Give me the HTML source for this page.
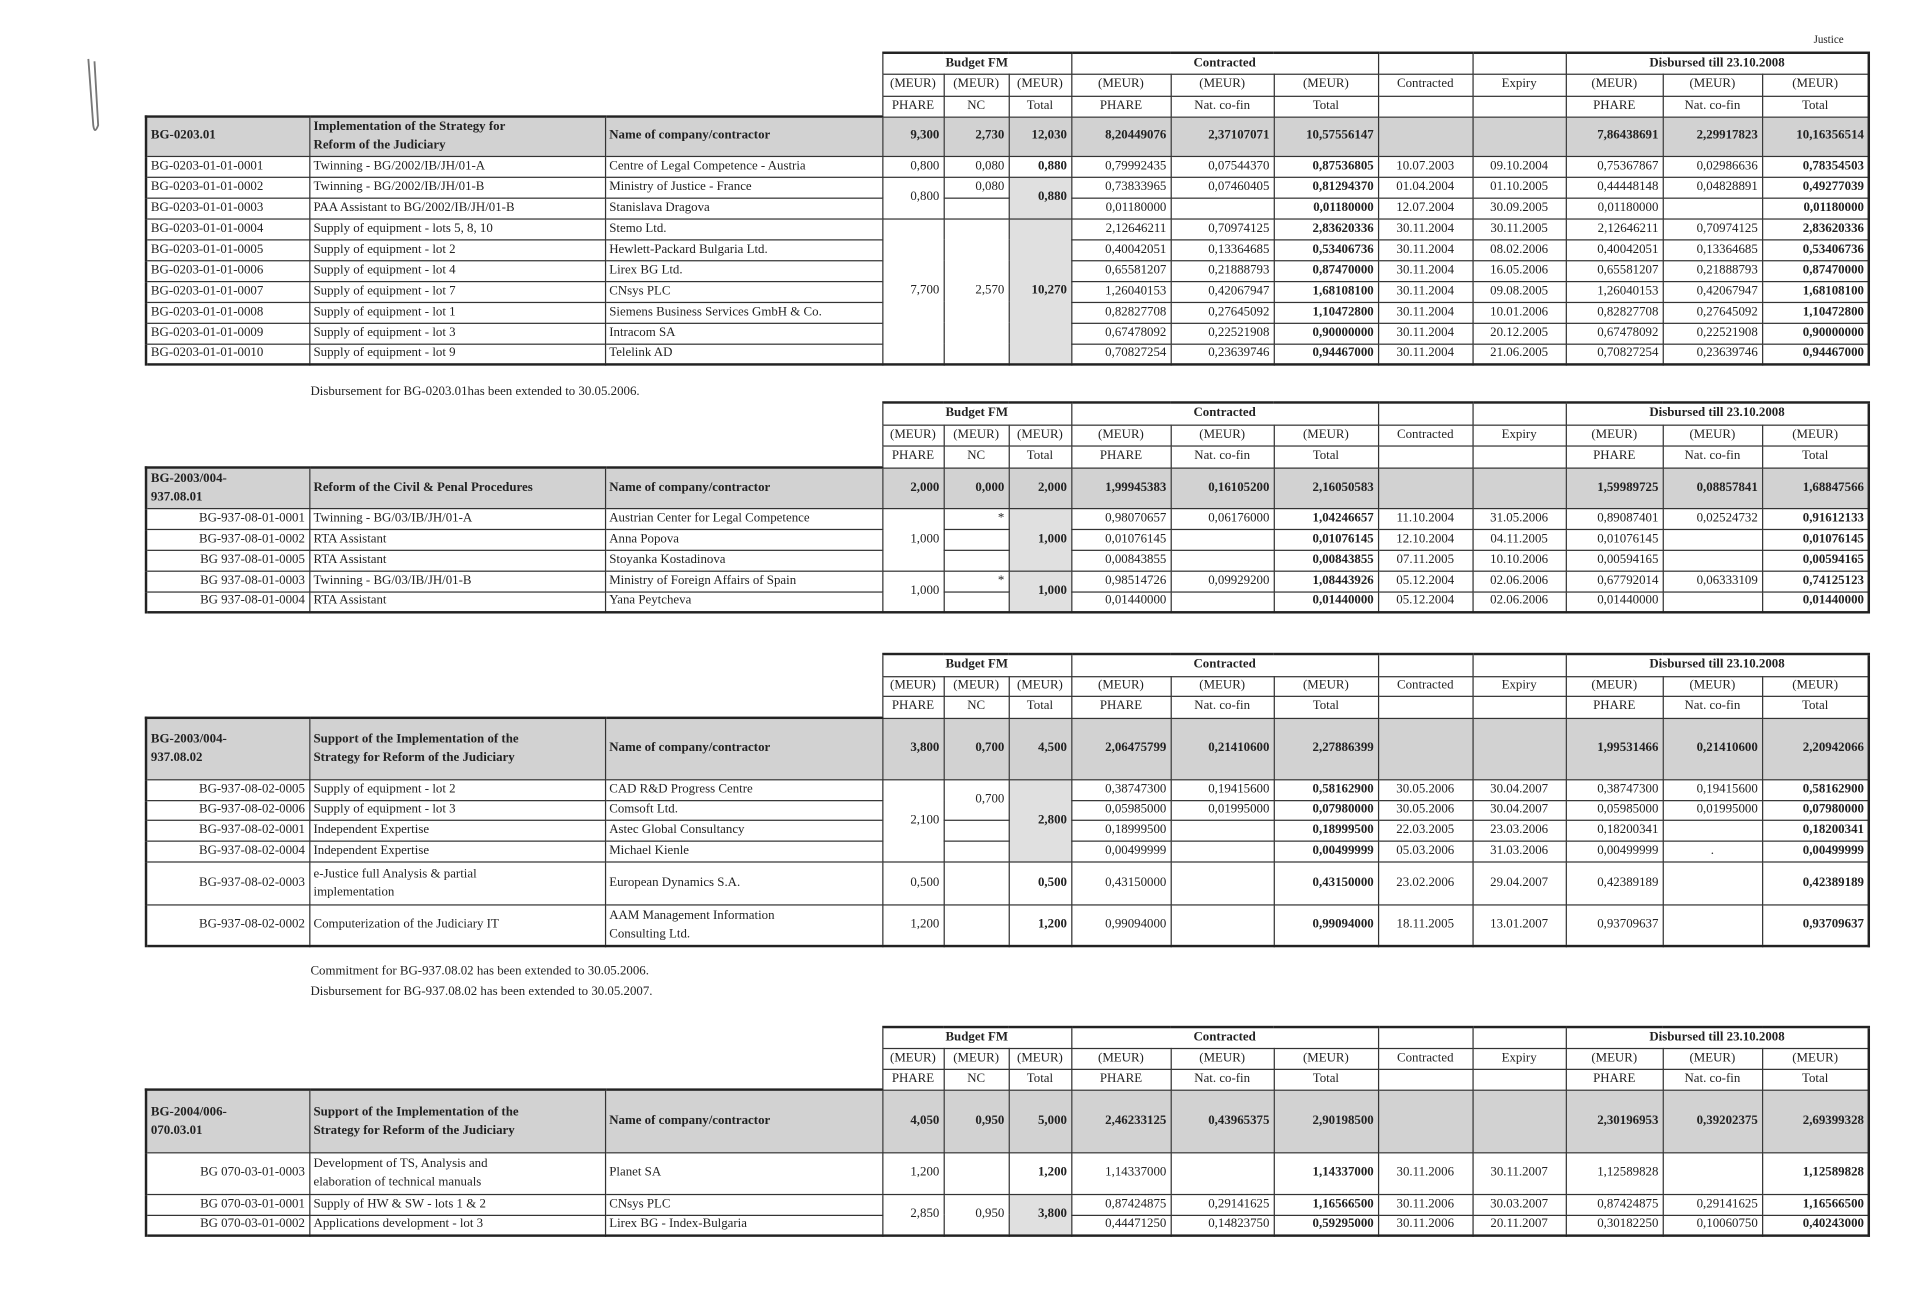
<!DOCTYPE html>
<html><head><meta charset="utf-8">
<style>
html,body{margin:0;padding:0;background:#fff;}
body{width:1924px;height:1298px;overflow:hidden;position:relative;}
#wrap{position:absolute;left:0;top:0;width:1568px;height:1058px;transform:scale(1.22704);transform-origin:0 0;font-family:"Liberation Serif",serif;color:#222;}
table{position:absolute;left:118px;border-collapse:collapse;table-layout:fixed;width:1404px;font-size:10.5px;}
td{border:1px solid #333;padding:0 3px;white-space:nowrap;overflow:hidden;line-height:12px;}
td.n{border:none;}
tr.h td{text-align:center;}
tr.m td{background:#d2d2d2;font-weight:bold;}
tr.m td.t{line-height:15px;}
td.r{text-align:right;}
td.c{text-align:center;}
td.b{font-weight:bold;}
td.g{background:#e0e0e0;}
td.w{line-height:15px;}
table{border:2px solid #222;}
tr.h td.n{border-right:1px solid #333;}
.note{position:absolute;left:253px;font-size:10.5px;}
</style></head><body><div id="wrap">
<div style="position:absolute;left:1478px;top:27px;font-size:9px;">Justice</div>
<svg style="position:absolute;left:60px;top:40px" width="30" height="75"><path d="M12 8 L16 62 Q17 70 20 62 L17 10" stroke="#777" stroke-width="1.5" fill="none"/></svg>

<!-- TABLE 1 -->
<table style="top:42px;border-top:none;border-left:none">
<colgroup><col style="width:133px"><col style="width:241px"><col style="width:226px"><col style="width:50px"><col style="width:53px"><col style="width:51px"><col style="width:81px"><col style="width:84px"><col style="width:85px"><col style="width:77px"><col style="width:76px"><col style="width:79px"><col style="width:81px"><col style="width:87px"></colgroup>
<tr class="h" style="height:17px"><td class="n" colspan="3"></td><td colspan="3" style="border-top:2px solid #222" class="b">Budget FM</td><td colspan="3" style="border-top:2px solid #222" class="b">Contracted</td><td style="border-top:2px solid #222"></td><td style="border-top:2px solid #222"></td><td colspan="3" style="border-top:2px solid #222" class="b">Disbursed till 23.10.2008</td></tr>
<tr class="h" style="height:18px"><td class="n" colspan="3"></td><td>(MEUR)</td><td>(MEUR)</td><td>(MEUR)</td><td>(MEUR)</td><td>(MEUR)</td><td>(MEUR)</td><td>Contracted</td><td>Expiry</td><td>(MEUR)</td><td>(MEUR)</td><td>(MEUR)</td></tr>
<tr class="h" style="height:17px"><td class="n" colspan="3"></td><td>PHARE</td><td>NC</td><td>Total</td><td>PHARE</td><td>Nat. co-fin</td><td>Total</td><td></td><td></td><td>PHARE</td><td>Nat. co-fin</td><td>Total</td></tr>
<tr class="m" style="height:32px"><td style="border-left:2px solid #222;border-top:2px solid #222">BG-0203.01</td><td class="t" style="border-top:2px solid #222">Implementation of the Strategy for<br>Reform of the Judiciary</td><td style="border-top:2px solid #222">Name of company/contractor</td><td class="r">9,300</td><td class="r">2,730</td><td class="r">12,030</td><td class="r">8,20449076</td><td class="r">2,37107071</td><td class="r">10,57556147</td><td></td><td></td><td class="r">7,86438691</td><td class="r">2,29917823</td><td class="r">10,16356514</td></tr>
<tr style="height:17px"><td style="border-left:2px solid #222">BG-0203-01-01-0001</td><td>Twinning - BG/2002/IB/JH/01-A</td><td>Centre of Legal Competence - Austria</td><td class="r">0,800</td><td class="r">0,080</td><td class="r b">0,880</td><td class="r">0,79992435</td><td class="r">0,07544370</td><td class="r b">0,87536805</td><td class="c">10.07.2003</td><td class="c">09.10.2004</td><td class="r">0,75367867</td><td class="r">0,02986636</td><td class="r b">0,78354503</td></tr>
<tr style="height:17px"><td style="border-left:2px solid #222">BG-0203-01-01-0002</td><td>Twinning - BG/2002/IB/JH/01-B</td><td>Ministry of Justice - France</td><td class="r" rowspan="2">0,800</td><td class="r">0,080</td><td class="r b g" rowspan="2">0,880</td><td class="r">0,73833965</td><td class="r">0,07460405</td><td class="r b">0,81294370</td><td class="c">01.04.2004</td><td class="c">01.10.2005</td><td class="r">0,44448148</td><td class="r">0,04828891</td><td class="r b">0,49277039</td></tr>
<tr style="height:17px"><td style="border-left:2px solid #222">BG-0203-01-01-0003</td><td>PAA Assistant to BG/2002/IB/JH/01-B</td><td>Stanislava Dragova</td><td></td><td class="r">0,01180000</td><td></td><td class="r b">0,01180000</td><td class="c">12.07.2004</td><td class="c">30.09.2005</td><td class="r">0,01180000</td><td></td><td class="r b">0,01180000</td></tr>
<tr style="height:17px"><td style="border-left:2px solid #222">BG-0203-01-01-0004</td><td>Supply of equipment - lots 5, 8, 10</td><td>Stemo Ltd.</td><td class="r" rowspan="7">7,700</td><td class="r" rowspan="7">2,570</td><td class="r b g" rowspan="7">10,270</td><td class="r">2,12646211</td><td class="r">0,70974125</td><td class="r b">2,83620336</td><td class="c">30.11.2004</td><td class="c">30.11.2005</td><td class="r">2,12646211</td><td class="r">0,70974125</td><td class="r b">2,83620336</td></tr>
<tr style="height:17px"><td style="border-left:2px solid #222">BG-0203-01-01-0005</td><td>Supply of equipment - lot 2</td><td>Hewlett-Packard Bulgaria Ltd.</td><td class="r">0,40042051</td><td class="r">0,13364685</td><td class="r b">0,53406736</td><td class="c">30.11.2004</td><td class="c">08.02.2006</td><td class="r">0,40042051</td><td class="r">0,13364685</td><td class="r b">0,53406736</td></tr>
<tr style="height:17px"><td style="border-left:2px solid #222">BG-0203-01-01-0006</td><td>Supply of equipment - lot 4</td><td>Lirex BG Ltd.</td><td class="r">0,65581207</td><td class="r">0,21888793</td><td class="r b">0,87470000</td><td class="c">30.11.2004</td><td class="c">16.05.2006</td><td class="r">0,65581207</td><td class="r">0,21888793</td><td class="r b">0,87470000</td></tr>
<tr style="height:17px"><td style="border-left:2px solid #222">BG-0203-01-01-0007</td><td>Supply of equipment - lot 7</td><td>CNsys PLC</td><td class="r">1,26040153</td><td class="r">0,42067947</td><td class="r b">1,68108100</td><td class="c">30.11.2004</td><td class="c">09.08.2005</td><td class="r">1,26040153</td><td class="r">0,42067947</td><td class="r b">1,68108100</td></tr>
<tr style="height:17px"><td style="border-left:2px solid #222">BG-0203-01-01-0008</td><td>Supply of equipment - lot 1</td><td>Siemens Business Services GmbH &amp; Co.</td><td class="r">0,82827708</td><td class="r">0,27645092</td><td class="r b">1,10472800</td><td class="c">30.11.2004</td><td class="c">10.01.2006</td><td class="r">0,82827708</td><td class="r">0,27645092</td><td class="r b">1,10472800</td></tr>
<tr style="height:17px"><td style="border-left:2px solid #222">BG-0203-01-01-0009</td><td>Supply of equipment - lot 3</td><td>Intracom SA</td><td class="r">0,67478092</td><td class="r">0,22521908</td><td class="r b">0,90000000</td><td class="c">30.11.2004</td><td class="c">20.12.2005</td><td class="r">0,67478092</td><td class="r">0,22521908</td><td class="r b">0,90000000</td></tr>
<tr style="height:17px"><td style="border-left:2px solid #222">BG-0203-01-01-0010</td><td>Supply of equipment - lot 9</td><td>Telelink AD</td><td class="r">0,70827254</td><td class="r">0,23639746</td><td class="r b">0,94467000</td><td class="c">30.11.2004</td><td class="c">21.06.2005</td><td class="r">0,70827254</td><td class="r">0,23639746</td><td class="r b">0,94467000</td></tr>
</table>
<div class="note" style="top:314px">Disbursement for BG-0203.01has been extended to 30.05.2006.</div>

<!-- TABLE 2 -->
<table style="top:327px;border-top:none;border-left:none">
<colgroup><col style="width:133px"><col style="width:241px"><col style="width:226px"><col style="width:50px"><col style="width:53px"><col style="width:51px"><col style="width:81px"><col style="width:84px"><col style="width:85px"><col style="width:77px"><col style="width:76px"><col style="width:79px"><col style="width:81px"><col style="width:87px"></colgroup>
<tr class="h" style="height:18px"><td class="n" colspan="3"></td><td colspan="3" style="border-top:2px solid #222" class="b">Budget FM</td><td colspan="3" style="border-top:2px solid #222" class="b">Contracted</td><td style="border-top:2px solid #222"></td><td style="border-top:2px solid #222"></td><td colspan="3" style="border-top:2px solid #222" class="b">Disbursed till 23.10.2008</td></tr>
<tr class="h" style="height:17px"><td class="n" colspan="3"></td><td>(MEUR)</td><td>(MEUR)</td><td>(MEUR)</td><td>(MEUR)</td><td>(MEUR)</td><td>(MEUR)</td><td>Contracted</td><td>Expiry</td><td>(MEUR)</td><td>(MEUR)</td><td>(MEUR)</td></tr>
<tr class="h" style="height:18px"><td class="n" colspan="3"></td><td>PHARE</td><td>NC</td><td>Total</td><td>PHARE</td><td>Nat. co-fin</td><td>Total</td><td></td><td></td><td>PHARE</td><td>Nat. co-fin</td><td>Total</td></tr>
<tr class="m" style="height:33px"><td class="t" style="border-left:2px solid #222;border-top:2px solid #222">BG-2003/004-<br>937.08.01</td><td style="border-top:2px solid #222">Reform of the Civil &amp; Penal Procedures</td><td style="border-top:2px solid #222">Name of company/contractor</td><td class="r">2,000</td><td class="r">0,000</td><td class="r">2,000</td><td class="r">1,99945383</td><td class="r">0,16105200</td><td class="r">2,16050583</td><td></td><td></td><td class="r">1,59989725</td><td class="r">0,08857841</td><td class="r">1,68847566</td></tr>
<tr style="height:17px"><td class="r" style="border-left:2px solid #222">BG-937-08-01-0001</td><td>Twinning - BG/03/IB/JH/01-A</td><td>Austrian Center for Legal Competence</td><td class="r" rowspan="3">1,000</td><td class="r">*</td><td class="r b g" rowspan="3">1,000</td><td class="r">0,98070657</td><td class="r">0,06176000</td><td class="r b">1,04246657</td><td class="c">11.10.2004</td><td class="c">31.05.2006</td><td class="r">0,89087401</td><td class="r">0,02524732</td><td class="r b">0,91612133</td></tr>
<tr style="height:17px"><td class="r" style="border-left:2px solid #222">BG-937-08-01-0002</td><td>RTA Assistant</td><td>Anna Popova</td><td></td><td class="r">0,01076145</td><td></td><td class="r b">0,01076145</td><td class="c">12.10.2004</td><td class="c">04.11.2005</td><td class="r">0,01076145</td><td></td><td class="r b">0,01076145</td></tr>
<tr style="height:17px"><td class="r" style="border-left:2px solid #222">BG 937-08-01-0005</td><td>RTA Assistant</td><td>Stoyanka Kostadinova</td><td></td><td class="r">0,00843855</td><td></td><td class="r b">0,00843855</td><td class="c">07.11.2005</td><td class="c">10.10.2006</td><td class="r">0,00594165</td><td></td><td class="r b">0,00594165</td></tr>
<tr style="height:17px"><td class="r" style="border-left:2px solid #222">BG 937-08-01-0003</td><td>Twinning - BG/03/IB/JH/01-B</td><td>Ministry of Foreign Affairs of Spain</td><td class="r" rowspan="2">1,000</td><td class="r">*</td><td class="r b g" rowspan="2">1,000</td><td class="r">0,98514726</td><td class="r">0,09929200</td><td class="r b">1,08443926</td><td class="c">05.12.2004</td><td class="c">02.06.2006</td><td class="r">0,67792014</td><td class="r">0,06333109</td><td class="r b">0,74125123</td></tr>
<tr style="height:17px"><td class="r" style="border-left:2px solid #222">BG 937-08-01-0004</td><td>RTA Assistant</td><td>Yana Peytcheva</td><td></td><td class="r">0,01440000</td><td></td><td class="r b">0,01440000</td><td class="c">05.12.2004</td><td class="c">02.06.2006</td><td class="r">0,01440000</td><td></td><td class="r b">0,01440000</td></tr>
</table>

<!-- TABLE 3 -->
<table style="top:532px;border-top:none;border-left:none">
<colgroup><col style="width:133px"><col style="width:241px"><col style="width:226px"><col style="width:50px"><col style="width:53px"><col style="width:51px"><col style="width:81px"><col style="width:84px"><col style="width:85px"><col style="width:77px"><col style="width:76px"><col style="width:79px"><col style="width:81px"><col style="width:87px"></colgroup>
<tr class="h" style="height:18px"><td class="n" colspan="3"></td><td colspan="3" style="border-top:2px solid #222" class="b">Budget FM</td><td colspan="3" style="border-top:2px solid #222" class="b">Contracted</td><td style="border-top:2px solid #222"></td><td style="border-top:2px solid #222"></td><td colspan="3" style="border-top:2px solid #222" class="b">Disbursed till 23.10.2008</td></tr>
<tr class="h" style="height:16px"><td class="n" colspan="3"></td><td>(MEUR)</td><td>(MEUR)</td><td>(MEUR)</td><td>(MEUR)</td><td>(MEUR)</td><td>(MEUR)</td><td>Contracted</td><td>Expiry</td><td>(MEUR)</td><td>(MEUR)</td><td>(MEUR)</td></tr>
<tr class="h" style="height:18px"><td class="n" colspan="3"></td><td>PHARE</td><td>NC</td><td>Total</td><td>PHARE</td><td>Nat. co-fin</td><td>Total</td><td></td><td></td><td>PHARE</td><td>Nat. co-fin</td><td>Total</td></tr>
<tr class="m" style="height:50px"><td class="t" style="border-left:2px solid #222;border-top:2px solid #222">BG-2003/004-<br>937.08.02</td><td class="t" style="border-top:2px solid #222">Support of the Implementation of the<br>Strategy for Reform of the Judiciary</td><td style="border-top:2px solid #222">Name of company/contractor</td><td class="r">3,800</td><td class="r">0,700</td><td class="r">4,500</td><td class="r">2,06475799</td><td class="r">0,21410600</td><td class="r">2,27886399</td><td></td><td></td><td class="r">1,99531466</td><td class="r">0,21410600</td><td class="r">2,20942066</td></tr>
<tr style="height:17px"><td class="r" style="border-left:2px solid #222">BG-937-08-02-0005</td><td>Supply of equipment - lot 2</td><td>CAD R&amp;D Progress Centre</td><td class="r" rowspan="4">2,100</td><td class="r" rowspan="2">0,700</td><td class="r b g" rowspan="4">2,800</td><td class="r">0,38747300</td><td class="r">0,19415600</td><td class="r b">0,58162900</td><td class="c">30.05.2006</td><td class="c">30.04.2007</td><td class="r">0,38747300</td><td class="r">0,19415600</td><td class="r b">0,58162900</td></tr>
<tr style="height:16px"><td class="r" style="border-left:2px solid #222">BG-937-08-02-0006</td><td>Supply of equipment - lot 3</td><td>Comsoft Ltd.</td><td class="r">0,05985000</td><td class="r">0,01995000</td><td class="r b">0,07980000</td><td class="c">30.05.2006</td><td class="c">30.04.2007</td><td class="r">0,05985000</td><td class="r">0,01995000</td><td class="r b">0,07980000</td></tr>
<tr style="height:17px"><td class="r" style="border-left:2px solid #222">BG-937-08-02-0001</td><td>Independent Expertise</td><td>Astec Global Consultancy</td><td></td><td class="r">0,18999500</td><td></td><td class="r b">0,18999500</td><td class="c">22.03.2005</td><td class="c">23.03.2006</td><td class="r">0,18200341</td><td></td><td class="r b">0,18200341</td></tr>
<tr style="height:17px"><td class="r" style="border-left:2px solid #222">BG-937-08-02-0004</td><td>Independent Expertise</td><td>Michael Kienle</td><td></td><td class="r">0,00499999</td><td></td><td class="r b">0,00499999</td><td class="c">05.03.2006</td><td class="c">31.03.2006</td><td class="r">0,00499999</td><td class="c">.</td><td class="r b">0,00499999</td></tr>
<tr style="height:35px"><td class="r" style="border-left:2px solid #222">BG-937-08-02-0003</td><td class="w">e-Justice full Analysis &amp; partial<br>implementation</td><td>European Dynamics S.A.</td><td class="r">0,500</td><td></td><td class="r b">0,500</td><td class="r">0,43150000</td><td></td><td class="r b">0,43150000</td><td class="c">23.02.2006</td><td class="c">29.04.2007</td><td class="r">0,42389189</td><td></td><td class="r b">0,42389189</td></tr>
<tr style="height:34px"><td class="r" style="border-left:2px solid #222">BG-937-08-02-0002</td><td>Computerization of the Judiciary IT</td><td class="w">AAM Management Information<br>Consulting Ltd.</td><td class="r">1,200</td><td></td><td class="r b">1,200</td><td class="r">0,99094000</td><td></td><td class="r b">0,99094000</td><td class="c">18.11.2005</td><td class="c">13.01.2007</td><td class="r">0,93709637</td><td></td><td class="r b">0,93709637</td></tr>
</table>
<div class="note" style="top:786px">Commitment for BG-937.08.02 has been extended to 30.05.2006.</div>
<div class="note" style="top:803px">Disbursement for BG-937.08.02 has been extended to 30.05.2007.</div>

<!-- TABLE 4 -->
<table style="top:836px;border-top:none;border-left:none">
<colgroup><col style="width:133px"><col style="width:241px"><col style="width:226px"><col style="width:50px"><col style="width:53px"><col style="width:51px"><col style="width:81px"><col style="width:84px"><col style="width:85px"><col style="width:77px"><col style="width:76px"><col style="width:79px"><col style="width:81px"><col style="width:87px"></colgroup>
<tr class="h" style="height:17px"><td class="n" colspan="3"></td><td colspan="3" style="border-top:2px solid #222" class="b">Budget FM</td><td colspan="3" style="border-top:2px solid #222" class="b">Contracted</td><td style="border-top:2px solid #222"></td><td style="border-top:2px solid #222"></td><td colspan="3" style="border-top:2px solid #222" class="b">Disbursed till 23.10.2008</td></tr>
<tr class="h" style="height:17px"><td class="n" colspan="3"></td><td>(MEUR)</td><td>(MEUR)</td><td>(MEUR)</td><td>(MEUR)</td><td>(MEUR)</td><td>(MEUR)</td><td>Contracted</td><td>Expiry</td><td>(MEUR)</td><td>(MEUR)</td><td>(MEUR)</td></tr>
<tr class="h" style="height:17px"><td class="n" colspan="3"></td><td>PHARE</td><td>NC</td><td>Total</td><td>PHARE</td><td>Nat. co-fin</td><td>Total</td><td></td><td></td><td>PHARE</td><td>Nat. co-fin</td><td>Total</td></tr>
<tr class="m" style="height:51px"><td class="t" style="border-left:2px solid #222;border-top:2px solid #222">BG-2004/006-<br>070.03.01</td><td class="t" style="border-top:2px solid #222">Support of the Implementation of the<br>Strategy for Reform of the Judiciary</td><td style="border-top:2px solid #222">Name of company/contractor</td><td class="r">4,050</td><td class="r">0,950</td><td class="r">5,000</td><td class="r">2,46233125</td><td class="r">0,43965375</td><td class="r">2,90198500</td><td></td><td></td><td class="r">2,30196953</td><td class="r">0,39202375</td><td class="r">2,69399328</td></tr>
<tr style="height:34px"><td class="r" style="border-left:2px solid #222">BG 070-03-01-0003</td><td class="w">Development of TS, Analysis and<br>elaboration of technical manuals</td><td>Planet SA</td><td class="r">1,200</td><td></td><td class="r b">1,200</td><td class="r">1,14337000</td><td></td><td class="r b">1,14337000</td><td class="c">30.11.2006</td><td class="c">30.11.2007</td><td class="r">1,12589828</td><td></td><td class="r b">1,12589828</td></tr>
<tr style="height:17px"><td class="r" style="border-left:2px solid #222">BG 070-03-01-0001</td><td>Supply of HW &amp; SW - lots 1 &amp; 2</td><td>CNsys PLC</td><td class="r" rowspan="2">2,850</td><td class="r" rowspan="2">0,950</td><td class="r b g" rowspan="2">3,800</td><td class="r">0,87424875</td><td class="r">0,29141625</td><td class="r b">1,16566500</td><td class="c">30.11.2006</td><td class="c">30.03.2007</td><td class="r">0,87424875</td><td class="r">0,29141625</td><td class="r b">1,16566500</td></tr>
<tr style="height:17px"><td class="r" style="border-left:2px solid #222">BG 070-03-01-0002</td><td>Applications development - lot 3</td><td>Lirex BG - Index-Bulgaria</td><td class="r">0,44471250</td><td class="r">0,14823750</td><td class="r b">0,59295000</td><td class="c">30.11.2006</td><td class="c">20.11.2007</td><td class="r">0,30182250</td><td class="r">0,10060750</td><td class="r b">0,40243000</td></tr>
</table>
</div></body></html>
